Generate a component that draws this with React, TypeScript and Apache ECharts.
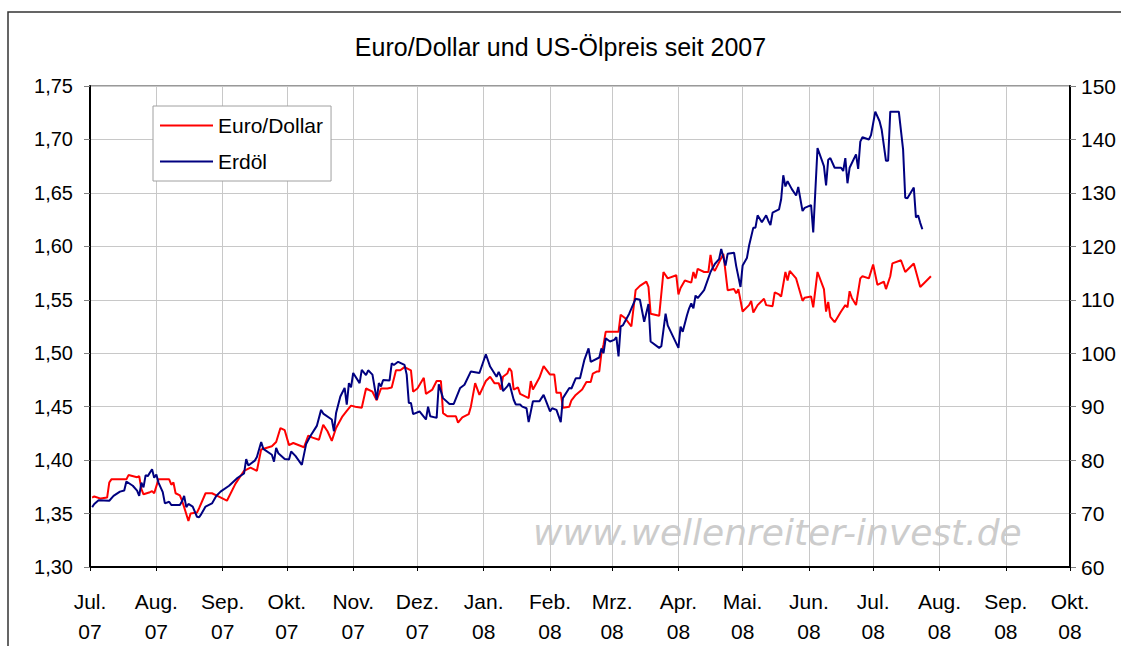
import React, { useEffect, useRef } from "react";
import * as echarts from "echarts";

const TITLE = "Euro/Dollar und US-Ölpreis seit 2007";
const MONTHS = ["Jan.", "Feb.", "Mrz.", "Apr.", "Mai.", "Jun.", "Jul.", "Aug.", "Sep.", "Okt.", "Nov.", "Dez."];
const X_MIN = "2007-07-01";
const X_MAX = "2008-10-01";
const WATERMARK = "www.wellenreiter-invest.de";

const eurDates = [
  "2007-07-02","2007-07-03","2007-07-06","2007-07-09","2007-07-10","2007-07-11","2007-07-18","2007-07-19","2007-07-23","2007-07-24",
  "2007-07-25","2007-07-26","2007-07-29","2007-07-30","2007-07-31","2007-08-02","2007-08-07","2007-08-08","2007-08-09","2007-08-10",
  "2007-08-12","2007-08-13","2007-08-14","2007-08-16","2007-08-17","2007-08-20","2007-08-21","2007-08-24","2007-08-27","2007-08-30",
  "2007-09-03","2007-09-07","2007-09-11","2007-09-14","2007-09-17","2007-09-19","2007-09-24","2007-09-26","2007-09-28","2007-09-30",
  "2007-10-02","2007-10-04","2007-10-09","2007-10-11","2007-10-13","2007-10-16","2007-10-18","2007-10-20","2007-10-22","2007-10-24",
  "2007-10-27","2007-10-29","2007-10-31","2007-11-02","2007-11-05","2007-11-07","2007-11-10","2007-11-12","2007-11-14","2007-11-17",
  "2007-11-19","2007-11-21","2007-11-23","2007-11-25","2007-11-28","2007-11-29","2007-12-01","2007-12-04","2007-12-05","2007-12-08",
  "2007-12-10","2007-12-12","2007-12-13","2007-12-15","2007-12-19","2007-12-20","2007-12-22","2007-12-25","2007-12-26","2007-12-28",
  "2007-12-30","2008-01-02","2008-01-04","2008-01-06","2008-01-08","2008-01-09","2008-01-10","2008-01-12","2008-01-13","2008-01-14",
  "2008-01-15","2008-01-17","2008-01-18","2008-01-22","2008-01-23","2008-01-24","2008-01-27","2008-01-29","2008-02-01","2008-02-03",
  "2008-02-04","2008-02-06","2008-02-07","2008-02-10","2008-02-11","2008-02-13","2008-02-16","2008-02-18","2008-02-20","2008-02-21",
  "2008-02-23","2008-02-24","2008-02-25","2008-02-26","2008-02-27","2008-03-01","2008-03-04","2008-03-05","2008-03-07","2008-03-10",
  "2008-03-12","2008-03-14","2008-03-17","2008-03-18","2008-03-19","2008-03-23","2008-03-25","2008-03-27","2008-03-31","2008-04-01",
  "2008-04-02","2008-04-04","2008-04-07","2008-04-08","2008-04-09","2008-04-10","2008-04-13","2008-04-15","2008-04-16","2008-04-17",
  "2008-04-18","2008-04-20","2008-04-22","2008-04-23","2008-04-24","2008-04-27","2008-04-28","2008-04-29","2008-05-01","2008-05-04",
  "2008-05-05","2008-05-06","2008-05-08","2008-05-11","2008-05-12","2008-05-15","2008-05-16","2008-05-18","2008-05-19","2008-05-21",
  "2008-05-22","2008-05-23","2008-05-26","2008-05-29","2008-05-30","2008-06-02","2008-06-03","2008-06-05","2008-06-08","2008-06-09",
  "2008-06-10","2008-06-11","2008-06-13","2008-06-16","2008-06-18","2008-06-19","2008-06-20","2008-06-21","2008-06-23","2008-06-25",
  "2008-06-26","2008-06-29","2008-07-01","2008-07-03","2008-07-06","2008-07-07","2008-07-09","2008-07-10","2008-07-14","2008-07-16",
  "2008-07-20","2008-07-23","2008-07-25","2008-07-28"
];
const eurValues = [
  1.365,1.366,1.364,1.365,1.379,1.382,1.382,1.386,1.384,1.385,
  1.373,1.368,1.370,1.371,1.369,1.382,1.382,1.377,1.379,1.369,
  1.367,1.362,1.356,1.343,1.350,1.351,1.355,1.369,1.369,1.366,
  1.362,1.378,1.390,1.393,1.390,1.410,1.413,1.417,1.430,1.428,
  1.414,1.416,1.412,1.423,1.421,1.419,1.433,1.427,1.418,1.430,
  1.441,1.446,1.451,1.450,1.449,1.467,1.464,1.456,1.467,1.467,
  1.468,1.484,1.484,1.487,1.484,1.464,1.467,1.477,1.462,1.466,
  1.474,1.474,1.444,1.441,1.441,1.435,1.440,1.443,1.450,1.472,
  1.461,1.474,1.478,1.472,1.472,1.466,1.478,1.481,1.486,1.483,
  1.466,1.468,1.462,1.458,1.474,1.466,1.477,1.488,1.480,1.480,
  1.463,1.463,1.449,1.450,1.456,1.461,1.466,1.473,1.473,1.481,
  1.483,1.483,1.500,1.508,1.520,1.520,1.520,1.536,1.533,1.525,
  1.559,1.563,1.567,1.562,1.537,1.535,1.576,1.570,1.573,1.555,
  1.561,1.568,1.566,1.576,1.570,1.579,1.576,1.576,1.592,1.580,
  1.577,1.585,1.593,1.576,1.559,1.560,1.556,1.560,1.539,1.545,
  1.549,1.538,1.545,1.551,1.545,1.544,1.557,1.555,1.553,1.576,
  1.568,1.577,1.570,1.549,1.552,1.553,1.543,1.576,1.560,1.539,
  1.548,1.534,1.529,1.539,1.545,1.543,1.558,1.552,1.545,1.570,
  1.572,1.570,1.583,1.564,1.567,1.560,1.572,1.584,1.587,1.576,
  1.584,1.562,1.566,1.572
];

const oilDates = [
  "2007-07-02","2007-07-03","2007-07-05","2007-07-10","2007-07-12","2007-07-15","2007-07-17","2007-07-18","2007-07-21","2007-07-23",
  "2007-07-24","2007-07-25","2007-07-26","2007-07-27","2007-07-28","2007-07-30","2007-07-31","2007-08-01","2007-08-02","2007-08-04",
  "2007-08-05","2007-08-07","2007-08-08","2007-08-12","2007-08-13","2007-08-14","2007-08-15","2007-08-16","2007-08-18","2007-08-20",
  "2007-08-21","2007-08-22","2007-08-24","2007-08-27","2007-08-29","2007-08-31","2007-09-04","2007-09-08","2007-09-11","2007-09-12",
  "2007-09-13","2007-09-16","2007-09-17","2007-09-19","2007-09-20","2007-09-24","2007-09-25","2007-09-26","2007-09-27","2007-09-30",
  "2007-10-02","2007-10-03","2007-10-05","2007-10-08","2007-10-10","2007-10-12","2007-10-15","2007-10-17","2007-10-18","2007-10-22",
  "2007-10-23","2007-10-24","2007-10-26","2007-10-28","2007-10-29","2007-10-30","2007-10-31","2007-11-01","2007-11-04","2007-11-05",
  "2007-11-07","2007-11-08","2007-11-10","2007-11-12","2007-11-13","2007-11-14","2007-11-15","2007-11-18","2007-11-19","2007-11-20",
  "2007-11-22","2007-11-25","2007-11-26","2007-11-27","2007-11-28","2007-11-29","2007-12-02","2007-12-05","2007-12-06","2007-12-07",
  "2007-12-10","2007-12-11","2007-12-13","2007-12-16","2007-12-18","2007-12-21","2007-12-23","2007-12-26","2007-12-30","2008-01-02",
  "2008-01-04","2008-01-07","2008-01-08","2008-01-09","2008-01-10","2008-01-12","2008-01-13","2008-01-15","2008-01-16","2008-01-18",
  "2008-01-19","2008-01-21","2008-01-22","2008-01-24","2008-01-27","2008-01-29","2008-02-01","2008-02-02","2008-02-04","2008-02-06",
  "2008-02-07","2008-02-10","2008-02-11","2008-02-13","2008-02-15","2008-02-17","2008-02-19","2008-02-20","2008-02-24","2008-02-25",
  "2008-02-26","2008-02-27","2008-02-29","2008-03-02","2008-03-03","2008-03-04","2008-03-05","2008-03-06","2008-03-09","2008-03-12",
  "2008-03-14","2008-03-16","2008-03-18","2008-03-19","2008-03-23","2008-03-24","2008-03-26","2008-03-27","2008-04-01","2008-04-02",
  "2008-04-03","2008-04-05","2008-04-06","2008-04-07","2008-04-08","2008-04-09","2008-04-10","2008-04-13","2008-04-16","2008-04-18",
  "2008-04-20","2008-04-21","2008-04-23","2008-04-24","2008-04-27","2008-04-28","2008-04-30","2008-05-01","2008-05-03","2008-05-04",
  "2008-05-06","2008-05-07","2008-05-08","2008-05-10","2008-05-12","2008-05-13","2008-05-14","2008-05-15","2008-05-18","2008-05-19",
  "2008-05-20","2008-05-21","2008-05-22","2008-05-24","2008-05-26","2008-05-27","2008-05-29","2008-05-30","2008-06-02","2008-06-03",
  "2008-06-05","2008-06-08","2008-06-09","2008-06-10","2008-06-11","2008-06-13","2008-06-16","2008-06-17","2008-06-18","2008-06-19",
  "2008-06-20","2008-06-23","2008-06-24","2008-06-25","2008-06-26","2008-06-29","2008-06-30","2008-07-02","2008-07-04","2008-07-05",
  "2008-07-07","2008-07-08","2008-07-09","2008-07-13","2008-07-15","2008-07-16","2008-07-17","2008-07-20","2008-07-21","2008-07-22",
  "2008-07-23","2008-07-24"
];
const oilValues = [
  71.2,71.8,72.5,72.4,73.3,74.1,74.3,76.0,75.2,74.3,
  73.3,75.8,74.9,77.2,77.0,78.3,76.7,77.3,75.8,74.0,
  71.9,72.2,71.6,71.6,72.3,73.3,71.2,71.8,71.3,69.4,
  69.3,69.9,71.3,71.9,73.3,74.1,75.2,76.7,77.5,80.2,
  79.0,79.9,80.6,83.4,82.1,81.0,79.7,82.3,81.3,80.2,
  80.1,81.6,80.8,79.1,83.0,84.5,86.4,89.4,88.7,87.6,
  85.4,88.8,91.9,93.5,90.4,94.4,93.6,96.3,94.4,96.9,
  95.9,96.8,96.0,91.3,94.4,93.8,95.0,94.9,98.1,97.8,
  98.4,97.8,96.0,90.7,90.7,88.6,89.1,87.6,90.0,88.2,
  87.9,94.2,91.6,90.5,90.5,93.5,94.1,96.6,96.3,99.8,
  97.5,95.6,96.5,95.6,92.9,93.8,94.4,91.3,90.4,90.4,
  90.0,89.7,87.1,91.0,91.0,92.2,89.1,89.7,89.4,87.1,
  91.6,93.5,93.4,95.3,95.3,98.7,100.9,98.4,99.2,100.9,
  100.0,102.8,102.2,102.5,103.0,99.4,105.0,105.2,107.4,110.2,
  110.0,105.9,109.2,102.2,101.0,101.3,107.4,105.2,101.0,105.0,
  104.0,107.1,108.4,109.3,108.4,110.8,110.3,111.8,115.2,116.7,
  117.6,119.5,116.4,118.6,118.8,116.3,112.4,116.4,117.8,120.1,
  123.5,123.5,125.8,124.5,125.8,124.8,124.0,126.3,126.9,128.8,
  133.3,131.2,132.2,130.7,129.5,131.1,126.6,127.2,127.7,122.6,
  138.4,135.0,131.4,136.2,136.5,134.7,134.7,134.1,136.5,131.8,
  134.7,137.2,134.5,139.6,140.4,140.0,140.8,145.2,143.4,141.8,
  136.0,136.0,145.2,145.2,138.1,129.1,129.0,131.0,125.4,125.8,
  124.4,123.2
];

const FONT = "'Liberation Sans', Arial, sans-serif";

function toTs(s: string) {
  const [y, m, d] = s.split("-").map(Number);
  return new Date(y, m - 1, d).getTime();
}

export default function App() {
  const ref = useRef<HTMLDivElement>(null);
  useEffect(() => {
    if (!ref.current) return;
    const chart = echarts.init(ref.current, undefined, { renderer: "svg" });
    const DAY = 86400000;
    const option: any = {
      animation: false,
      backgroundColor: "#ffffff",
      title: {
        text: TITLE,
        left: "center",
        top: 29,
        textStyle: { fontFamily: FONT, fontSize: 25, fontWeight: "normal", color: "#000" },
      },
      legend: {
        data: ["Euro/Dollar", "Erdöl"],
        orient: "vertical",
        left: 153,
        top: 106,
        icon: "rect",
        itemWidth: 53,
        itemHeight: 2,
        itemGap: 15,
        padding: [9, 8, 9, 7],
        backgroundColor: "#ffffff",
        borderColor: "#a0a0a0",
        borderWidth: 1,
        textStyle: { fontFamily: FONT, fontSize: 21, color: "#000" },
      },
      grid: {
        left: 90,
        right: 51,
        top: 86,
        bottom: 76,
        show: true,
        borderColor: "#333",
        borderWidth: 1,
        containLabel: false,
      },
      xAxis: {
        type: "time",
        min: toTs(X_MIN),
        max: toTs(X_MAX),
        minInterval: 28 * DAY,
        maxInterval: 31 * DAY,
        axisLine: { show: true, lineStyle: { color: "#000", width: 2 } },
        axisTick: { show: true, length: 4, lineStyle: { color: "#000" } },
        splitLine: { show: true, lineStyle: { color: "#c8c8c8", width: 1 } },
        axisLabel: {
          show: true,
          interval: 0,
          hideOverlap: false,
          showMinLabel: true,
          showMaxLabel: true,
          margin: 19,
          lineHeight: 30,
          fontFamily: FONT,
          fontSize: 21,
          color: "#000",
          formatter: (v: number) => {
            const d = new Date(v);
            return MONTHS[d.getMonth()] + "\n" + String(d.getFullYear()).slice(2);
          },
        },
      },
      yAxis: [
        {
          type: "value",
          min: 1.3,
          max: 1.75,
          interval: 0.05,
          position: "left",
          axisLine: { show: true, lineStyle: { color: "#000", width: 2 } },
          axisTick: { show: true, length: 6, lineStyle: { color: "#808080" } },
          splitLine: { show: true, lineStyle: { color: "#c8c8c8", width: 1 } },
          axisLabel: {
            margin: 17,
            fontFamily: FONT,
            fontSize: 20,
            color: "#000",
            formatter: (v: number) => v.toFixed(2).replace(".", ","),
          },
        },
        {
          type: "value",
          min: 60,
          max: 150,
          interval: 10,
          position: "right",
          axisLine: { show: true, lineStyle: { color: "#000", width: 2 } },
          axisTick: { show: true, length: 6, lineStyle: { color: "#808080" } },
          splitLine: { show: false },
          axisLabel: {
            margin: 11,
            fontFamily: FONT,
            fontSize: 21,
            color: "#000",
          },
        },
      ],
      graphic: [
        {
          type: "rect",
          z: -10,
          shape: { x: 8, y: 12, width: 1130, height: 700 },
          style: { fill: "none", stroke: "#333", lineWidth: 1.5 },
          silent: true,
        },
        {
          type: "text",
          z: -5,
          left: 533,
          top: 514,
          style: {
            text: WATERMARK,
            font: "italic 36px 'DejaVu Sans', Verdana, sans-serif",
            fill: "#cccccc",
          },
          silent: true,
        },
      ],
      series: [
        {
          name: "Euro/Dollar",
          type: "line",
          yAxisIndex: 0,
          showSymbol: false,
          color: "#ff0000",
          lineStyle: { color: "#ff0000", width: 2 },
          data: eurDates.map((d, i) => [toTs(d), eurValues[i]]),
          z: 3,
        },
        {
          name: "Erdöl",
          type: "line",
          yAxisIndex: 1,
          showSymbol: false,
          color: "#000080",
          lineStyle: { color: "#000080", width: 2 },
          data: oilDates.map((d, i) => [toTs(d), oilValues[i]]),
          z: 4,
        },
      ],
    };
    chart.setOption(option);
    return () => chart.dispose();
  }, []);
  return (
    <div
      ref={ref}
      style={{ position: "absolute", left: 0, top: 0, width: 1121, height: 646, background: "#fff" }}
    />
  );
}
